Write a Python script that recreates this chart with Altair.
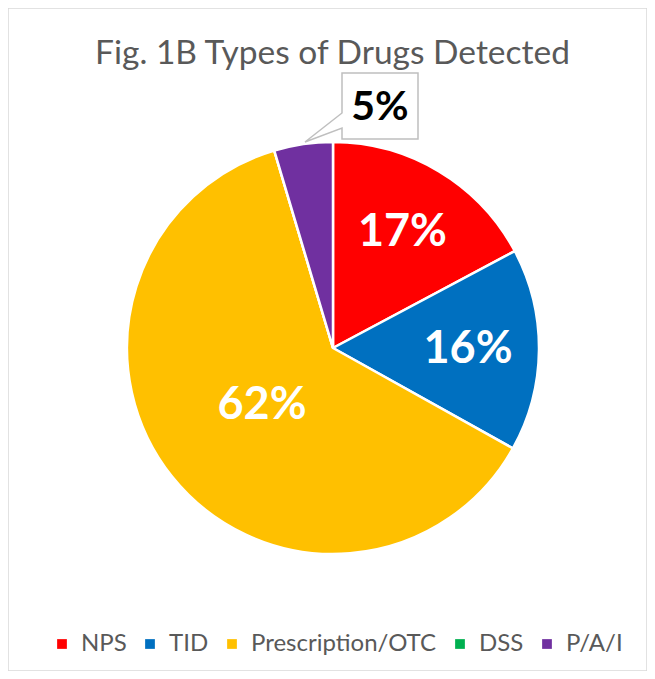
import altair as alt
import pandas as pd

categories = ["NPS", "TID", "Prescription/OTC", "DSS", "P/A/I"]
shares = [17.2, 15.9, 62.3, 0.0, 4.6]
colors = ["#FF0000", "#0070C0", "#FFC000", "#00B050", "#7030A0"]

df = pd.DataFrame({"category": categories, "share": shares, "idx": list(range(len(categories)))})

CX, CY = 325, 340

base = alt.Chart(df).encode(
    theta=alt.Theta("share:Q", stack=True),
    order=alt.Order("idx:Q"),
)

pie = base.mark_arc(outerRadius=206, stroke="white", strokeWidth=2.5, x=CX, y=CY).encode(
    color=alt.Color(
        "category:N",
        sort=categories,
        scale=alt.Scale(domain=categories, range=colors),
        legend=alt.Legend(
            title=None,
            orient="none",
            legendX=42,
            legendY=624,
            direction="horizontal",
            symbolType="square",
            symbolSize=95,
            symbolStrokeWidth=0,
            labelFont="Lato",
            labelFontSize=24,
            labelColor="#595959",
            labelOffset=7,
            labelLimit=0,
            columnPadding=11,
            padding=0,
        ),
    )
)

small_lbl = "(datum.category == 'NPS' || datum.category == 'TID') ? format(datum.share, '.0f') + '%' : ''"
big_lbl = "datum.category == 'Prescription/OTC' ? format(datum.share, '.0f') + '%' : ''"
out_lbl = "datum.category == 'P/A/I' ? format(datum.share, '.0f') + '%' : ''"

inner_small = base.mark_text(
    font="Lato", fontSize=45, fontWeight="bold", color="white", x=CX, y=CY, radius=135, baseline="middle"
).encode(text="lbl:N").transform_calculate(lbl=small_lbl)

inner_big = base.mark_text(
    font="Lato", fontSize=45, fontWeight="bold", color="white", x=CX, y=CY, radius=91, baseline="middle"
).encode(text="lbl:N").transform_calculate(lbl=big_lbl)

callout_path = "M -0.5 -0.434 L 0.5 -0.434 L 0.5 0.434 L -0.5 0.434 L -0.5 0.289 L -0.987 0.474 L -0.5 0.092 Z"
box = alt.Chart(df).transform_filter("datum.category == 'P/A/I'").mark_point(
    shape=callout_path, size=23104, filled=True, fill="white", stroke="#BFBFBF", strokeWidth=1.5, opacity=1
).encode(x=alt.value(372), y=alt.value(98))

outer = base.mark_text(
    font="Lato", fontSize=41, fontWeight="bold", color="black", x=CX, y=CY, radius=243, dx=82, baseline="middle"
).encode(text="lbl:N").transform_calculate(lbl=out_lbl)

chart = alt.layer(pie, box, inner_small, inner_big, outer).properties(
    width=639,
    height=663,
    autosize="none",
    padding=0,
    background="white",
    title=alt.TitleParams(
        "Fig. 1B Types of Drugs Detected",
        font="Lato",
        fontSize=33.5,
        fontWeight="normal",
        color="#595959",
        anchor="middle",
        frame="group",
        offset=-89,
        dx=5,
        baseline="alphabetic",
    ),
).configure_view(stroke="#D9D9D9", strokeWidth=1.5)

chart.save("out.html", embed_options={"renderer": "svg", "actions": False})
